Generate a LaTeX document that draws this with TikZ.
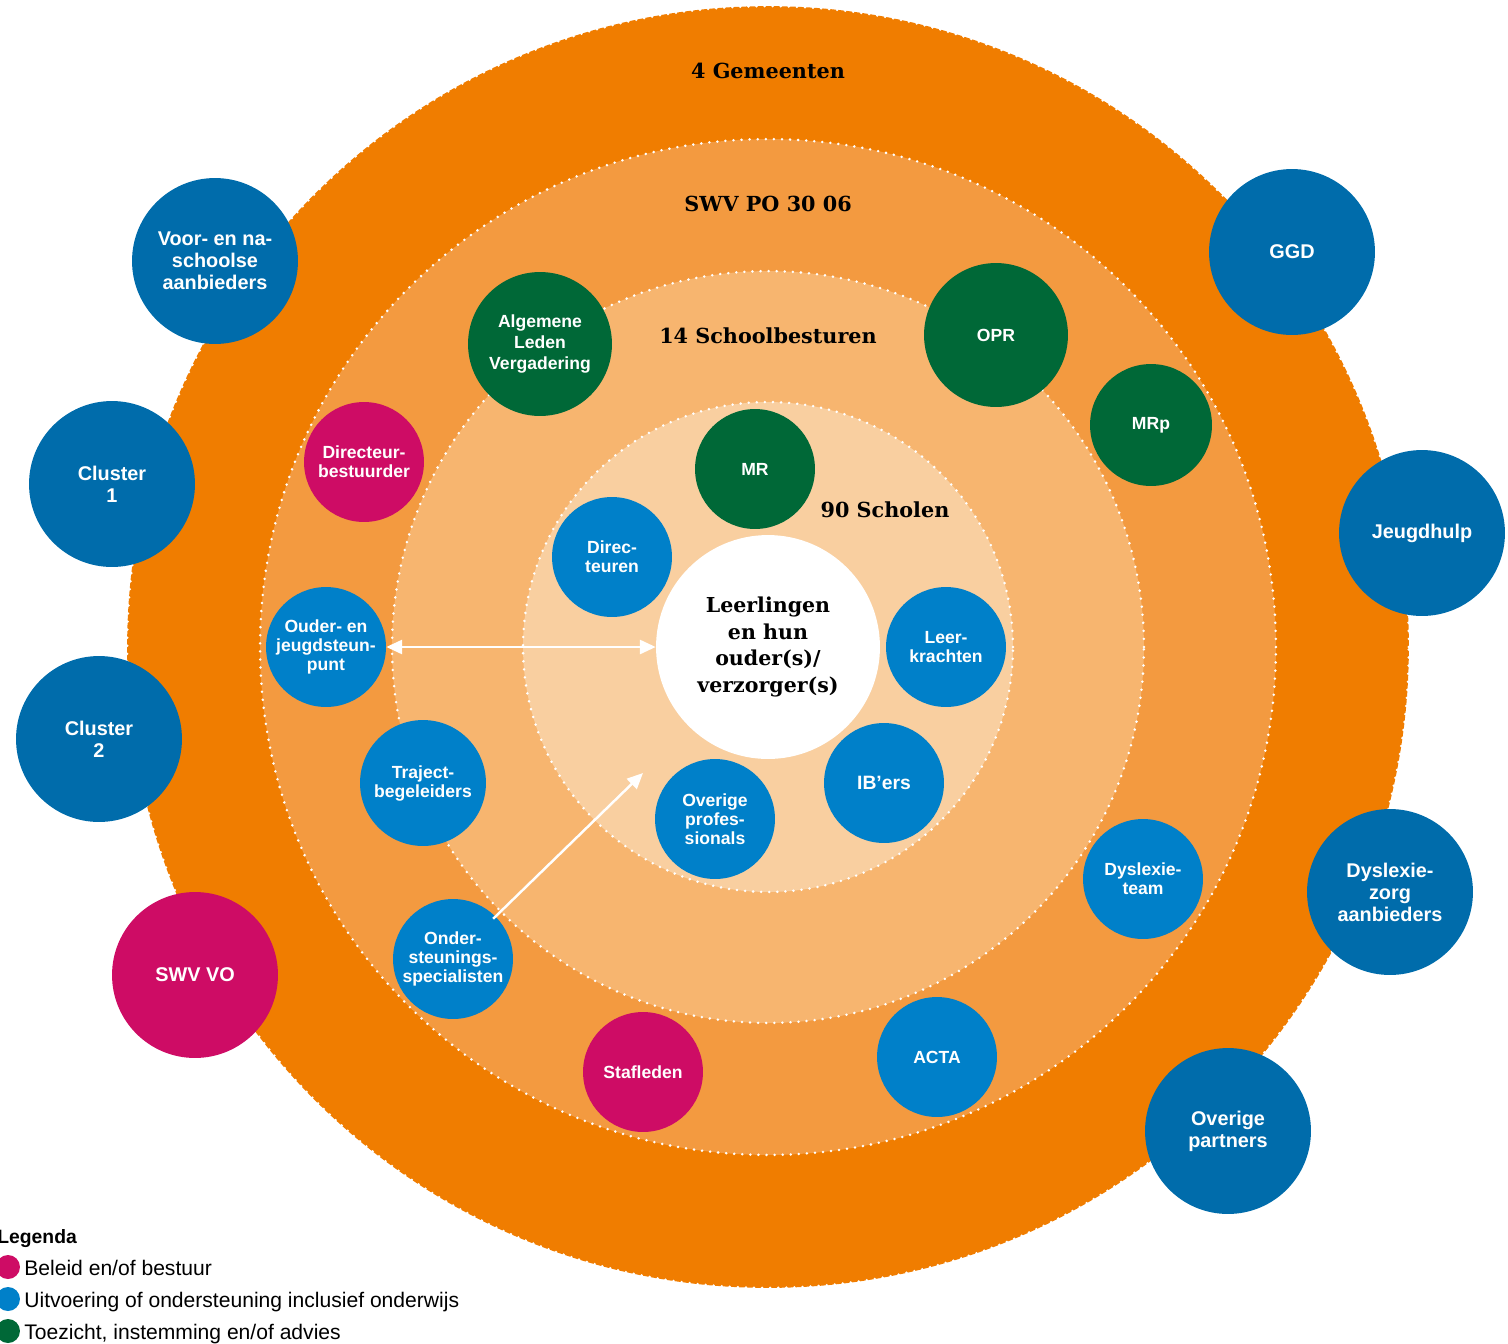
\documentclass[tikz,border=0pt]{standalone}
\usepackage{fontspec}
\setmainfont{Liberation Sans}
\newfontfamily\slabfont{DejaVu Serif}
\usetikzlibrary{arrows.meta}

\definecolor{gemOrange}{HTML}{F07D00}
\definecolor{swvOrange}{HTML}{F39A40}
\definecolor{bestOrange}{HTML}{F7B56F}
\definecolor{schoolOrange}{HTML}{F9CFA0}
\definecolor{outBlue}{HTML}{006CAB}
\definecolor{inBlue}{HTML}{0080C9}
\definecolor{advGreen}{HTML}{006837}
\definecolor{polMagenta}{HTML}{CE0C65}

\tikzset{
  disc/.style={circle, inner sep=0pt, minimum size=#1*0.04cm, text=white,
    align=center, font=\bfseries\fontsize{10}{10.8}\selectfont},
  bigdisc/.style={disc=83, fill=outBlue, font=\bfseries\fontsize{11.3}{12.5}\selectfont},
  dotline/.style={draw=white, line width=1.6pt, line cap=round,
    dash pattern=on 0pt off 4.6pt},
  ringtitle/.style={font=\slabfont\bfseries\fontsize{11.8}{15}\selectfont},
  whitearrow/.style={draw=white, line width=1.4pt, -{Triangle[length=9pt, width=8pt]}},
}

\begin{document}
\begin{tikzpicture}[x=0.02cm, y=-0.02cm]
        \useasboundingbox (0,0) rectangle (1508,1343);

        % rings
        \fill[gemOrange]    (768,647) circle (12.82cm);
        \draw[dotline]      (768,647) circle (12.82cm);
        \fill[swvOrange]    (768,647) circle (10.16cm);
        \draw[dotline]      (768,647) circle (10.16cm);
        \fill[bestOrange]   (768,647) circle (7.52cm);
        \draw[dotline]      (768,647) circle (7.52cm);
        \fill[schoolOrange] (768,647) circle (4.9cm);
        \draw[dotline]      (768,647) circle (4.9cm);

        \node[ringtitle] at (768,71)  (gemeenten) {4 Gemeenten};
        \node[ringtitle] at (768,204) (swvpo)     {SWV PO 30 06};
        \node[ringtitle] at (768,336) (besturen)  {14 Schoolbesturen};
        \node[ringtitle] at (885,510) (scholen)   {90 Scholen};

        % centre
        \node[disc=112, fill=white, text=black, font=\slabfont\bfseries\fontsize{11.7}{15.3}\selectfont]
            at (768,647) (leerling) {Leerlingen\\en hun\\ouder(s)/\\verzorger(s)};

        % outside partners
        \node[bigdisc] at (215,261)  (voorna)   {Voor- en na-\\schoolse\\aanbieders};
        \node[bigdisc] at (112,484)  (cluster1) {Cluster\\1};
        \node[bigdisc] at (99,739)   (cluster2) {Cluster\\2};
        \node[bigdisc, fill=polMagenta] at (195,975) (swvvo) {SWV VO};
        \node[bigdisc] at (1292,252) (ggd)      {GGD};
        \node[bigdisc] at (1422,533) (jeugd)    {Jeugdhulp};
        \node[bigdisc] at (1390,892) (dyszorg)  {Dyslexie-\\zorg\\aanbieders};
        \node[bigdisc] at (1228,1131) (overpart) {Overige\\partners};

        % samenwerkingsverband
        \node[disc=72, fill=advGreen, font=\bfseries\fontsize{10}{12.2}\selectfont] at (540,344) (alv) {Algemene\\Leden\\Vergadering};
        \node[disc=72, fill=advGreen] at (996,335) (opr) {OPR};
        \node[disc=61, fill=advGreen] at (1151,425) (mrp) {MRp};
        \node[disc=60, fill=polMagenta] at (364,462) (dirbest) {Directeur-\\bestuurder};
        \node[disc=60, fill=inBlue] at (326,647) (ojsp) {Ouder- en\\jeugdsteun-\\punt};
        \node[disc=63, fill=inBlue] at (423,783) (traject) {Traject-\\begeleiders};
        \node[disc=60, fill=inBlue] at (453,959) (ondsp) {Onder-\\steunings-\\specialisten};
        \node[disc=60, fill=polMagenta] at (643,1072) (staf) {Stafleden};
        \node[disc=60, fill=inBlue] at (937,1057) (acta) {ACTA};
        \node[disc=60, fill=inBlue] at (1143,879) (dysteam) {Dyslexie-\\team};

        % scholen
        \node[disc=60, fill=advGreen] at (755,469) (mr) {MR};
        \node[disc=60, fill=inBlue] at (612,557) (direc) {Direc-\\teuren};
        \node[disc=60, fill=inBlue] at (946,647) (leerkr) {Leer-\\krachten};
        \node[disc=60, fill=inBlue, font=\bfseries\fontsize{11}{12}\selectfont] at (884,783) (ibers) {IB’ers};
        \node[disc=60, fill=inBlue] at (715,819) (overprof) {Overige\\profes-\\sionals};

        \coordinate (ondtip) at (643,773);
        \draw[whitearrow, {Triangle[length=9pt, width=8pt]}-{Triangle[length=9pt, width=8pt]}] (ojsp) -- (leerling);
        \draw[whitearrow, shorten <=-2pt] (ondsp.45) -- (ondtip);

        % legenda
        \node[anchor=base west, font=\bfseries\fontsize{11}{13}\selectfont, inner sep=0pt] at (-3,1243) (legenda) {Legenda};
        \fill[polMagenta] (8,1267) circle (0.24cm);
        \fill[inBlue]     (8,1299) circle (0.24cm);
        \fill[advGreen]   (8,1331) circle (0.24cm);
        \node[anchor=base west, font=\fontsize{12}{14}\selectfont, inner sep=0pt] at (24,1275) (leg1) {Beleid en/of bestuur};
        \node[anchor=base west, font=\fontsize{12}{14}\selectfont, inner sep=0pt] at (24,1307) (leg2) {Uitvoering of ondersteuning inclusief onderwijs};
        \node[anchor=base west, font=\fontsize{12}{14}\selectfont, inner sep=0pt] at (24,1339) (leg3) {Toezicht, instemming en/of advies};
    \end{tikzpicture}
\end{document}
